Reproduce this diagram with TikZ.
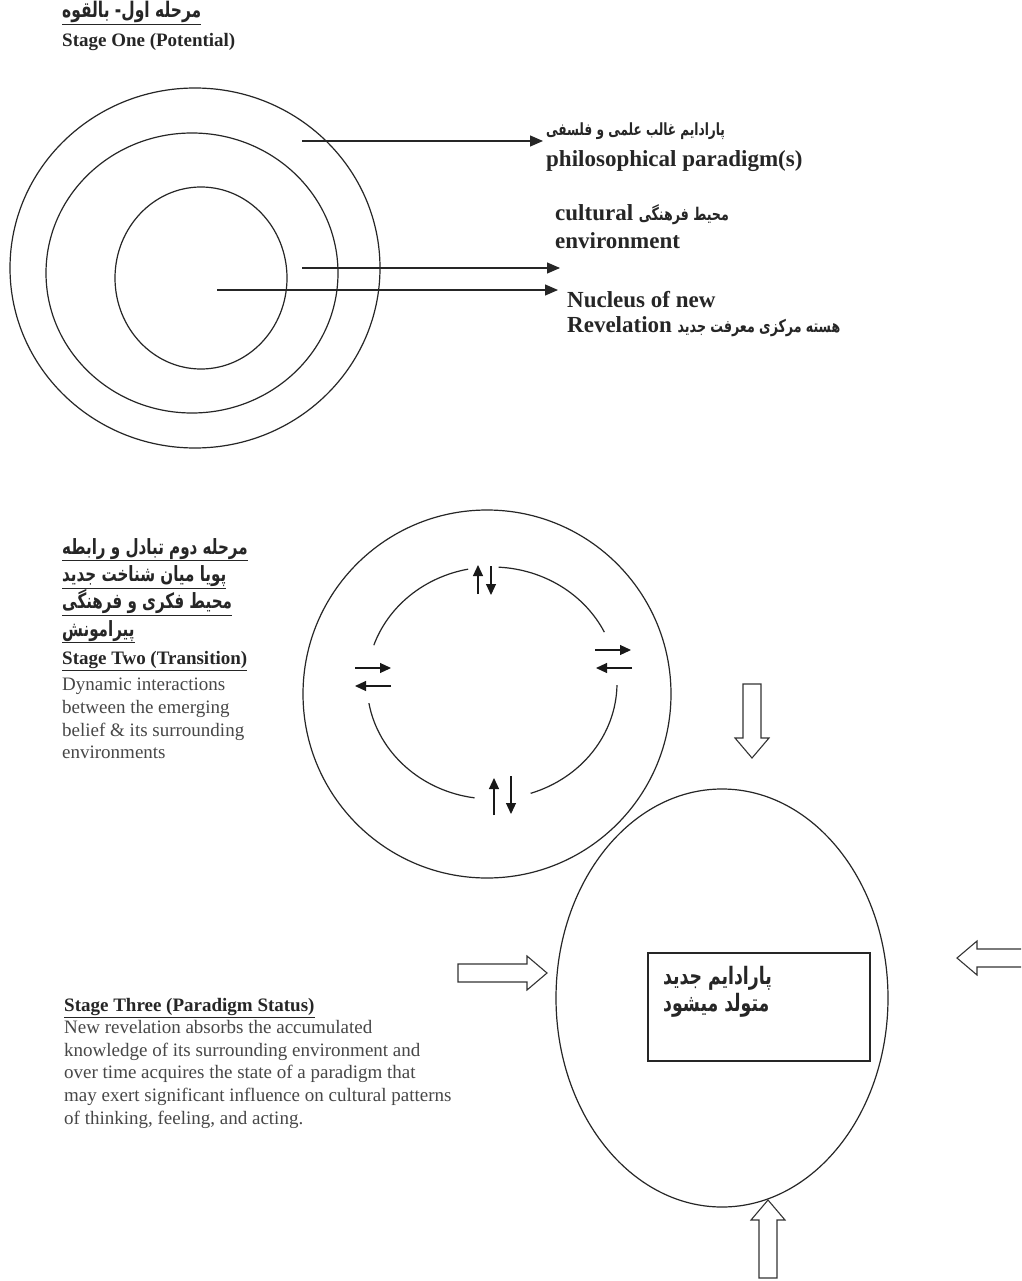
\documentclass[tikz,border=0pt]{standalone}
\usepackage{fontspec}
\setmainfont{Liberation Serif}
\newfontfamily\fa[Script=Arabic, FakeStretch=0.72]{DejaVu Sans}
\TeXXeTstate=1
\usetikzlibrary{arrows.meta,shapes.geometric}
\newcommand{\farsi}[2][17.5]{{\fontsize{#1}{#1}\selectfont\fa\bfseries\beginR #2\endR}}
\tikzset{
  ln/.style={line width=1.2pt, draw=black!85},
  arr/.style={ln, -{Triangle[length=13pt,width=11pt]}},
  sarr/.style={line width=1.1pt, draw=black!90, -{Triangle[length=11pt,width=10pt]}},
  hol/.style={line width=1.1pt, draw=black!80, fill=white},
  lab/.style={font=\fontsize{23}{26}\selectfont\bfseries, text=black!85, anchor=west, inner sep=0},
  headtxt/.style={font=\fontsize{19}{22.7}\selectfont\bfseries, text=black!85, anchor=west, inner sep=0},
  bodytxt/.style={font=\fontsize{19}{22.7}\selectfont, text=black!72, anchor=north west, inner sep=0, align=left},
  fablock/.style={anchor=north west, inner sep=0, align=left, text=black!85},
  hollowarrow/.pic={\draw[hol] (0,0) -- (-20,-17) -- (-20,-9) -- (-#1,-9) -- (-#1,9) -- (-20,9) -- (-20,17) -- cycle;}
}
\begin{document}
\begin{tikzpicture}[x=1pt,y=-1pt]
\useasboundingbox (0,0) rectangle (1021,1281);
\clip (0,0) rectangle (1021,1281);
\fill[white] (0,0) rectangle (1021,1281);

% ---------- Stage one ----------
\node[fablock, anchor=west] (t1fa) at (62,13) {\underline{\farsi[21.5]{مرحله اول- بالقوه}}};
\node[headtxt] (t1) at (62,42) {Stage One (Potential)};

\draw[ln] (195,268) ellipse [x radius=185, y radius=180];
\draw[ln] (192,273) ellipse [x radius=146, y radius=140];
\draw[ln] (201,278) ellipse [x radius=86, y radius=91];

\coordinate (a1s) at (302,141); \coordinate (a1e) at (543,141);
\coordinate (a2s) at (302,268); \coordinate (a2e) at (560,268);
\coordinate (a3s) at (217,290); \coordinate (a3e) at (558,290);
\draw[arr] (a1s) -- (a1e);
\draw[arr] (a2s) -- (a2e);
\draw[arr] (a3s) -- (a3e);

\node[lab] (l1) at (546,131) {\farsi[16.8]{پارادایم غالب علمی و فلسفی}};
\node[lab] (l2) at (546,161) {philosophical paradigm(s)};
\node[lab] (l3) at (555,215) {cultural \farsi{محیط فرهنگی}};
\node[lab] (l4) at (555,241) {environment};
\node[lab] (l5) at (567,300) {Nucleus of new};
\node[lab] (l6) at (567,327) {Revelation \farsi{هسته مرکزی معرفت جدید}};

% ---------- Stage two ----------
\draw[ln] (487,694) ellipse [x radius=184, y radius=184];
\coordinate (rc) at (492,683);
\draw[ln] (rc) ++(199:125 and 116) arc[start angle=199, end angle=259, x radius=125, y radius=116];
\draw[ln] (rc) ++(273:125 and 116) arc[start angle=273, end angle=334, x radius=125, y radius=116];
\draw[ln] (rc) ++(1:125 and 116) arc[start angle=1, end angle=72, x radius=125, y radius=116];
\draw[ln] (rc) ++(98:125 and 116) arc[start angle=98, end angle=170, x radius=125, y radius=116];

\draw[sarr] (478,594) -- (478,565);
\draw[sarr] (491,566) -- (491,595);
\draw[sarr] (355,668) -- (391,668);
\draw[sarr] (391,686) -- (355,686);
\draw[sarr] (595,650) -- (631,650);
\draw[sarr] (632,668) -- (596,668);
\draw[sarr] (494,815) -- (494,778);
\draw[sarr] (511,776) -- (511,814);

\node[fablock, font=\fontsize{21}{27.3}\selectfont] (h2fa) at (62,538) {%
\underline{\farsi[21]{مرحله دوم  تبادل و رابطه}}\\
\underline{\farsi[21]{پویا میان شناخت جدید}}\\
\underline{\farsi[21]{محیط فکری و فرهنگی}}\\
\underline{\farsi[21]{پیرامونش}}};
\node[headtxt] (h2) at (62,661) {\underline{Stage Two (Transition)}};
\node[bodytxt] (b2) at (62,678) {Dynamic interactions\\between the emerging\\belief \& its surrounding\\environments};

% ---------- Stage three ----------
\node[draw, ellipse, ln, minimum width=332, minimum height=418, inner sep=0] (c3) at (722,998) {};
\node[draw, ln, minimum width=222, minimum height=108, inner sep=0] (box) at (759,1007) {};
\node[fablock, font=\fontsize{24}{27}\selectfont] (boxt) at (663,966) {\farsi[24]{پارادایم جدید}\\\farsi[24]{متولد میشود}};

\pic[rotate=-90] at (752,758) {hollowarrow=74};
\pic at (547,973) {hollowarrow=89};
\pic[rotate=180] at (957,958) {hollowarrow=80};
\pic[rotate=90] at (768,1200) {hollowarrow=78};

\node[headtxt] (h3) at (64,1008) {\underline{Stage Three (Paradigm Status)}};
\node[bodytxt] (b3) at (64,1020) {New revelation absorbs the accumulated\\knowledge of its surrounding environment and\\over time acquires the state of a paradigm that\\may exert significant influence on cultural patterns\\of thinking, feeling, and acting.};
\end{tikzpicture}
\end{document}
